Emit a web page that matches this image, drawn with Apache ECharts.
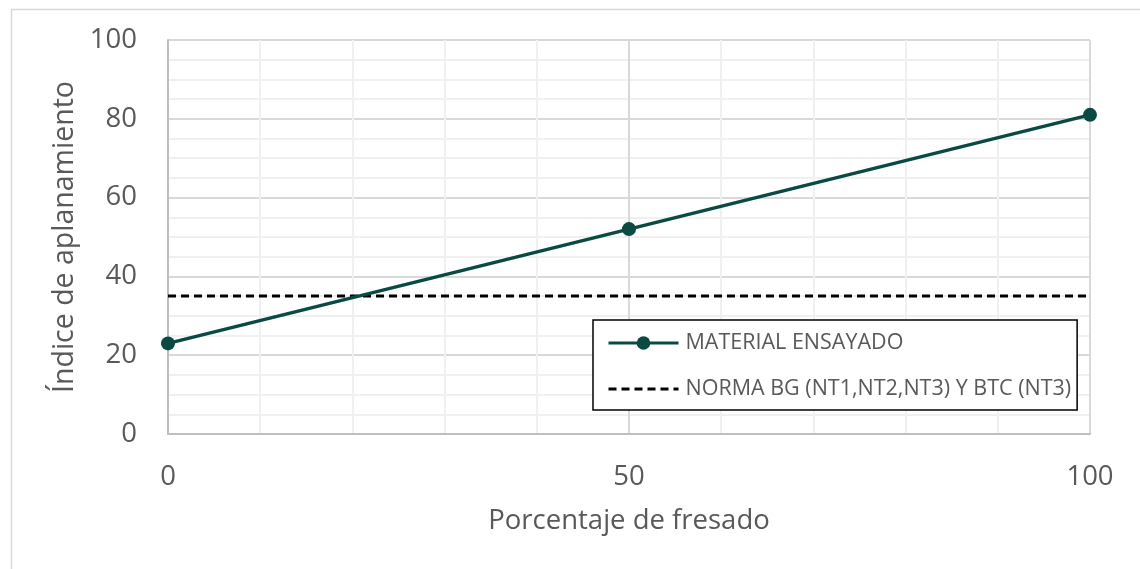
<!DOCTYPE html>
<html>
<head>
<meta charset="utf-8">
<script src="https://cdn.jsdelivr.net/npm/echarts@6/dist/echarts.min.js"></script>
<style>
  html, body { margin: 0; padding: 0; background: #fff; }
  #chart { width: 1140px; height: 569px; }
</style>
</head>
<body>
<div id="chart"></div>
<script>
// Porcentaje de fresado vs. índice de aplanamiento
const fresado = [0, 50, 100];
const indiceMaterial = [23, 52, 81];
const limiteNorma = 35;
const xTicks = [0, 50, 100];
const yTicks = [0, 20, 40, 60, 80, 100];

const serieMaterial = 'MATERIAL ENSAYADO';
const serieNorma = 'NORMA BG (NT1,NT2,NT3) Y BTC (NT3)';

const FONT = '"Open Sans", "Noto Sans", sans-serif';
const TXT = '#595959';
const VERDE = '#0b4a43';

const chart = echarts.init(document.getElementById('chart'), null, { renderer: 'canvas' });

chart.setOption({
  animation: false,
  backgroundColor: '#ffffff',
  textStyle: { fontFamily: FONT },
  graphic: [{
    type: 'rect',
    left: 9, top: 7,
    shape: { width: 1200, height: 700 },
    style: { fill: 'none', stroke: '#d9d9d9', lineWidth: 1.5 },
    silent: true, z: -10
  }],
  grid: { left: 168, right: 50, top: 40, bottom: 135, containLabel: false },
  legend: {
    orient: 'vertical',
    left: 593, top: 320,
    padding: [12, 6, 10, 14],
    itemGap: 24,
    itemWidth: 70, itemHeight: 17,
    borderColor: '#000000', borderWidth: 1.5,
    backgroundColor: '#ffffff',
    lineStyle: { width: 3 },
    textStyle: { fontSize: 21.5, color: TXT, fontFamily: FONT, padding: [0, 0, 0, 2] },
    data: [
      { name: serieMaterial },
      { name: serieNorma, itemStyle: { opacity: 0 } }
    ]
  },
  xAxis: {
    type: 'value',
    min: xTicks[0], max: xTicks[xTicks.length - 1], interval: 50,
    name: 'Porcentaje de fresado',
    nameLocation: 'middle', nameGap: 73,
    nameTextStyle: { fontSize: 27.5, color: TXT, fontFamily: FONT },
    axisLine: { show: true, lineStyle: { color: '#bfbfbf', width: 2 } },
    axisTick: { show: false },
    axisLabel: { fontSize: 27.5, color: TXT, margin: 29, fontFamily: FONT },
    splitLine: { show: true, lineStyle: { color: '#d9d9d9', width: 2 } },
    minorTick: { show: false, splitNumber: 5 },
    minorSplitLine: { show: true, lineStyle: { color: '#f0f0f0', width: 2 } }
  },
  yAxis: {
    type: 'value',
    min: yTicks[0], max: yTicks[yTicks.length - 1], interval: 20,
    name: 'Índice de aplanamiento',
    nameLocation: 'middle', nameGap: 86,
    nameTextStyle: { fontSize: 28.5, color: TXT, fontFamily: FONT },
    axisLine: { show: true, lineStyle: { color: '#bfbfbf', width: 2 } },
    axisTick: { show: false },
    axisLabel: { fontSize: 27.5, color: TXT, margin: 31, fontFamily: FONT },
    splitLine: { show: true, lineStyle: { color: '#d9d9d9', width: 2 } },
    minorTick: { show: false, splitNumber: 4 },
    minorSplitLine: { show: true, lineStyle: { color: '#f0f0f0', width: 2 } }
  },
  series: [
    {
      name: serieMaterial,
      type: 'line',
      data: fresado.map((x, i) => [x, indiceMaterial[i]]),
      symbol: 'circle', symbolSize: 14,
      lineStyle: { color: VERDE, width: 3.5 },
      itemStyle: { color: VERDE },
      z: 5
    },
    {
      name: serieNorma,
      type: 'line',
      data: [[xTicks[0], limiteNorma], [xTicks[xTicks.length - 1], limiteNorma]],
      symbol: 'none',
      lineStyle: { color: '#000000', width: 3, type: [8, 5] },
      itemStyle: { color: '#000000' },
      z: 4
    }
  ]
});
</script>
</body>
</html>
